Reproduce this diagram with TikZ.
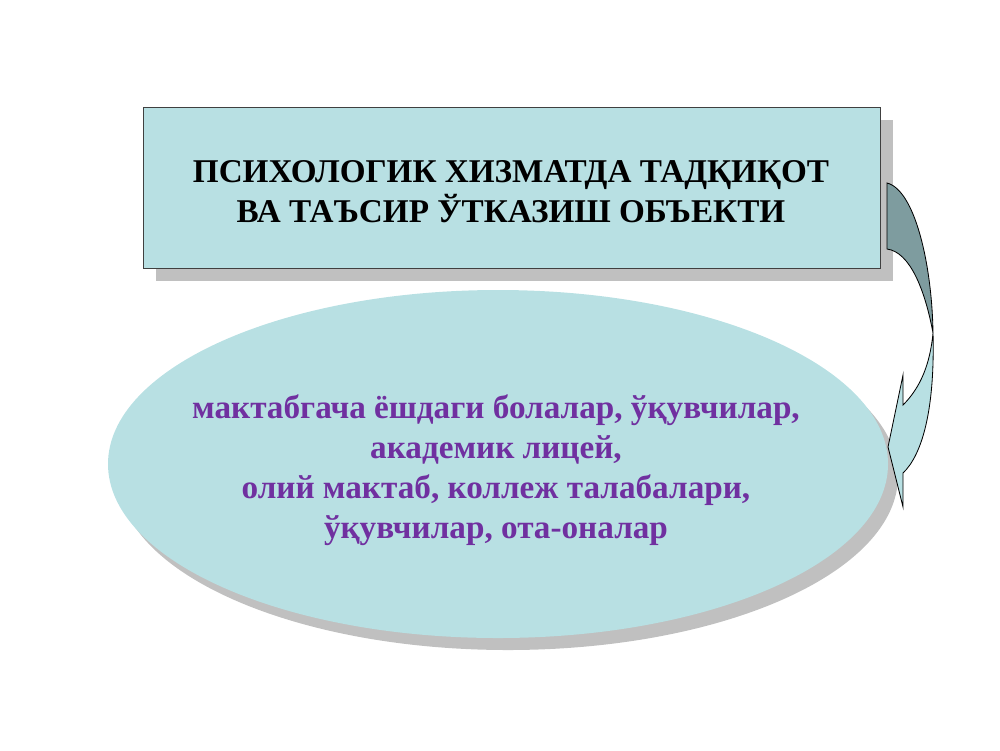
\documentclass[tikz,border=0pt]{standalone}
\usepackage{fontspec}
\setmainfont{Liberation Serif}
\usepackage{tikz}
\usetikzlibrary{shapes.geometric}
\definecolor{paleteal}{RGB}{184,224,227}
\definecolor{darkteal}{RGB}{126,156,159}
\definecolor{shadowgray}{RGB}{192,192,192}
\definecolor{textpurple}{RGB}{112,48,160}
\tikzstyle{bigtext} = [font=\fontsize{24}{28.8}\selectfont\bfseries, align=center]
\tikzstyle{shade} = [fill=shadowgray, draw=none]

\begin{document}
\begin{tikzpicture}[x=0.0254cm, y=-0.0254cm]
\useasboundingbox (0,0) rectangle (1000,750);

%title box with its shadow
\fill[shadowgray] (156,120) rectangle (893,281);
\draw[fill=paleteal, draw=black!75, line width=0.6pt] (143,107) rectangle (880,268);
\node[bigtext] (title) at (511,192) {ПСИХОЛОГИК ХИЗМАТДА ТАДҚИҚОТ \\ ВА ТАЪСИР ЎТКАЗИШ ОБЪЕКТИ};

%oval with its shadow
\fill[shadowgray] (508,476) ellipse (390 and 174);
\fill[paleteal] (498,464) ellipse (390 and 174);
\node[bigtext, text=textpurple] (objects) at (496,470) {мактабгача ёшдаги болалар, ўқувчилар, \\ академик лицей, \\ олий мактаб, коллеж талабалари, \\ ўқувчилар, ота-оналар};

%twisted arrow from box to oval, dark part then light part
\draw[fill=darkteal, line width=0.6pt] (887,183) .. controls (915,190) and (932,265) .. (933,333)
  .. controls (925,290) and (910,252) .. (887,249) -- cycle;
\draw[fill=paleteal, line width=0.6pt, line join=miter] (933,333) .. controls (935,410) and (922,455) .. (903,473)
  -- (903,507) -- (888,447) -- (903,375) -- (903,405)
  .. controls (920,388) and (930,365) .. (933,333) -- cycle;

\end{tikzpicture}
\end{document}
